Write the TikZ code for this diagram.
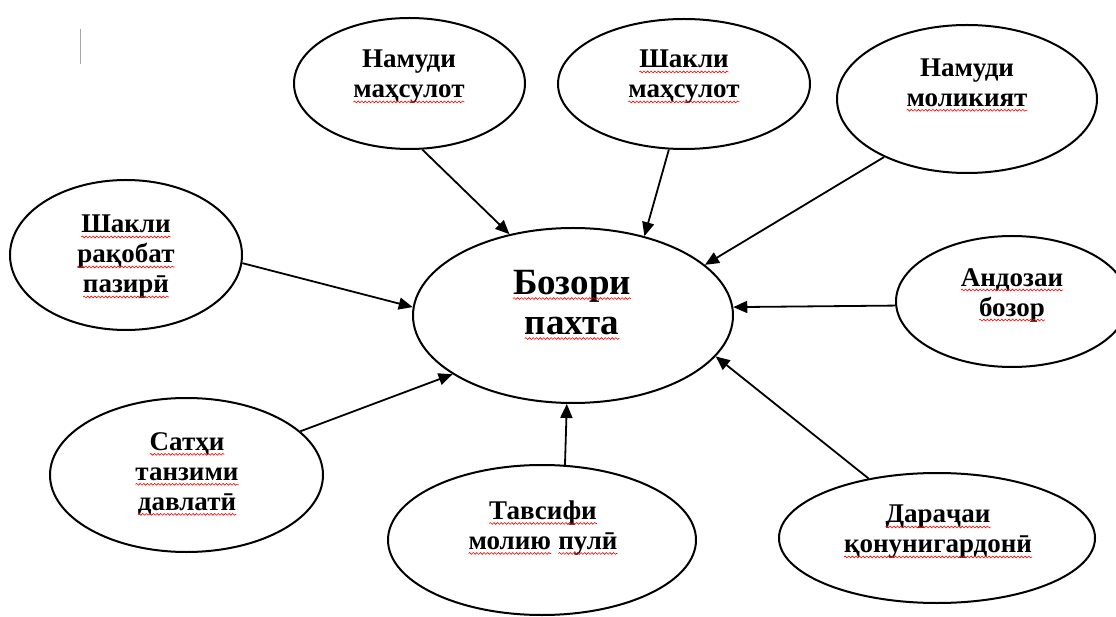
\documentclass[tikz,border=0pt]{standalone}
\usepackage{fontspec}
\setmainfont{Liberation Serif}
\usetikzlibrary{shapes.geometric,arrows.meta,decorations.pathmorphing}
\tikzset{
  bub/.style={ellipse,draw,line width=2pt,inner sep=0pt},
  lab/.style={align=center,font=\bfseries\fontsize{27}{30}\selectfont,inner sep=0pt},
  big/.style={align=center,font=\bfseries\fontsize{37}{40}\selectfont,inner sep=0pt},
  arr/.style={line width=1.8pt,-{Triangle[length=14pt,width=12pt]}},
  wave/.style={red,line width=0.6pt,decorate,decoration={snake,amplitude=0.9pt,segment length=3.6pt}}
}
\newcommand\wv[1]{\tikz[baseline=(w.base)]{\node[inner sep=0pt,outer sep=0pt] (w) {#1};\draw[wave] ([yshift=-4pt]w.base west) -- ([yshift=-4pt]w.base east);}}
\begin{document}
\begin{tikzpicture}[x=1pt,y=-1pt]
\useasboundingbox[fill=white] (0,0) rectangle (1116,617);
\draw[gray!70,line width=1pt] (80,29) -- (80,64);
% ellipses
\node[bub,minimum width=231pt,minimum height=131pt] (nm) at (409.5,83.5) {};
\node[bub,minimum width=252pt,minimum height=130pt] (sm) at (684,84) {};
\node[bub,minimum width=260pt,minimum height=148pt] (nmol) at (967,99) {};
\node[bub,minimum width=232pt,minimum height=150pt] (sr) at (126,255) {};
\node[bub,minimum width=320pt,minimum height=175pt] (b) at (573,315.5) {};
\node[bub,minimum width=232pt,minimum height=131pt] (a) at (1012,301.5) {};
\node[bub,minimum width=273pt,minimum height=154pt] (sat) at (186.5,475) {};
\node[bub,minimum width=308pt,minimum height=150pt] (t) at (542,540) {};
\node[bub,minimum width=316pt,minimum height=130pt] (d) at (937,538) {};
% texts
\node[lab] (nmt) at (409,77) {Намуди\\\wv{маҳсулот}};
\node[lab] (smt) at (684,77) {\wv{Шакли}\\\wv{маҳсулот}};
\node[lab] (nmolt) at (967,85) {Намуди\\\wv{моликият}};
\node[lab] (srt) at (126,257) {\wv{Шакли}\\\wv{рақобат}\\\wv{пазирӣ}};
\node[big] (bt) at (572,305) {\wv{Бозори}\\\wv{пахта}};
\node[lab] (at) at (1012,295) {\wv{Андозаи}\\\wv{бозор}};
\node[lab] (satt) at (187,474) {\wv{Сатҳи}\\\wv{танзими}\\\wv{давлатӣ}};
\node[lab] (tt) at (543,528) {\wv{Тавсифи}\\\wv{молию} \wv{пулӣ}};
\node[lab] (dt) at (938,532) {\wv{Дараҷаи}\\\wv{қонунигардонӣ}};
% arrows
\draw[arr] (nm.-79) -- (b.128);
\draw[arr] (sr.-4) -- (b.177);
\draw[arr] (sm.-103) -- (b.48);
\draw[arr] (nmol.-145) -- (b.21);
\draw[arr] (a.182) -- (b.3);
\draw[arr] (sat.21) -- (b.-154);
\draw[arr] (t.73) -- (b.-94);
\draw[arr] (d.139) -- (b.-16);
\end{tikzpicture}
\end{document}
